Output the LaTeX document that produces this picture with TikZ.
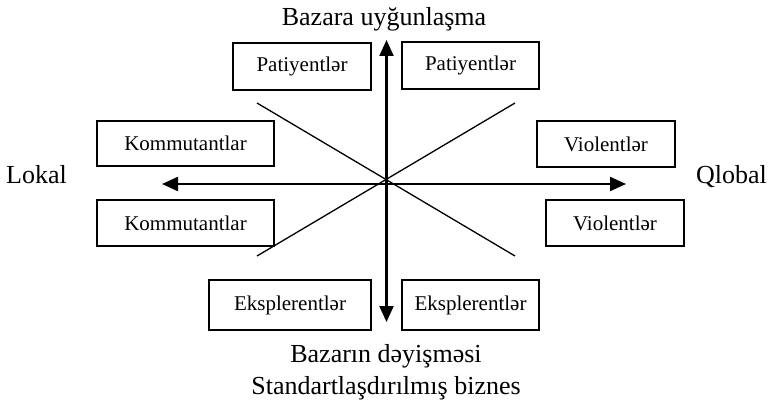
\documentclass[tikz,border=0pt]{standalone}
\usepackage{fontspec}
\setmainfont{Liberation Serif}
\usetikzlibrary{arrows.meta}
\begin{document}
\begin{tikzpicture}[x=1pt,y=-1pt,
  box/.style={draw, line width=1.3pt, inner sep=0pt, font=\fontsize{21}{24}\selectfont},
  lbl/.style={inner sep=0pt, anchor=base, font=\fontsize{26}{30}\selectfont},
  axis/.style={line width=2.2pt, {Triangle[length=16pt,width=14pt]}-{Triangle[length=16pt,width=14pt]}},
  diag/.style={line width=1.3pt}]
\useasboundingbox (0,0) rectangle (770,406);
% boxes
\node[box, minimum width=138pt, minimum height=47pt] (PL) at (302,66.5) {Patiyentlər};
\node[box, minimum width=137pt, minimum height=47pt] (PR) at (470.5,65.5) {Patiyentlər};
\node[box, minimum width=177pt, minimum height=45pt] (KT) at (185.5,143.5) {Kommutantlar};
\node[box, minimum width=177pt, minimum height=46pt] (KB) at (185.5,223) {Kommutantlar};
\node[box, minimum width=138pt, minimum height=46pt] (VT) at (606,144) {Violentlər};
\node[box, minimum width=138pt, minimum height=46pt] (VB) at (615,223) {Violentlər};
\node[box, minimum width=162pt, minimum height=50pt] (EL) at (290,305) {Eksplerentlər};
\node[box, minimum width=137pt, minimum height=50pt] (ER) at (470.5,305) {Eksplerentlər};
% diagonals
\coordinate (d1) at (257,103);
\coordinate (d2) at (515,256);
\coordinate (d3) at (257,256);
\coordinate (d4) at (515,103);
\draw[diag] (d1) -- (d2);
\draw[diag] (d3) -- (d4);
% axes
\coordinate (top) at (386.5,40);
\coordinate (bot) at (386.5,322);
\coordinate (lft) at (162,184);
\coordinate (rgt) at (626,184);
\draw[axis] (bot) -- (top);
\draw[axis] (lft) -- (rgt);
% labels
\node[lbl] (tl) at (384,26) {Bazara uyğunlaşma};
\node[lbl, anchor=base west] (ll) at (6,183) {Lokal};
\node[lbl, anchor=base east] (rl) at (767,183) {Qlobal};
\node[lbl] (bl1) at (386,362) {Bazarın dəyişməsi};
\node[lbl] (bl2) at (386,394) {Standartlaşdırılmış biznes};
\end{tikzpicture}
\end{document}
